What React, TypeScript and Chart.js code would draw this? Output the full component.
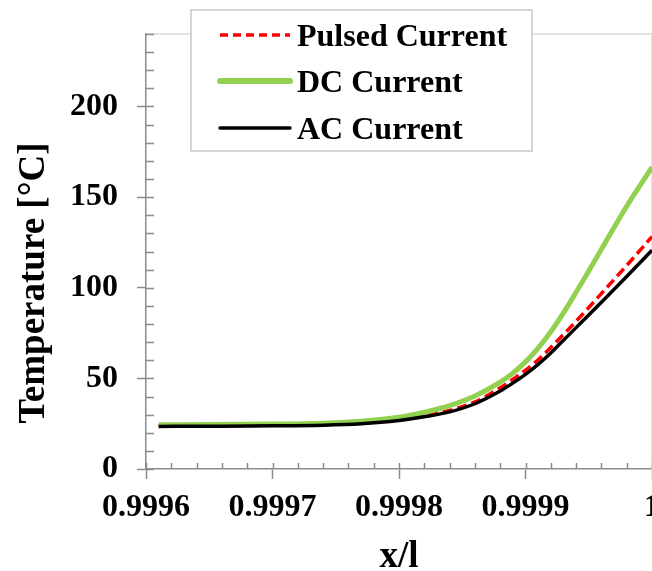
import { useEffect, useRef } from "react";
import { Chart, registerables } from "chart.js";

Chart.register(...registerables);

// Position along the conductor (x/l)
const X_POS = [
  0.99961, 0.99965, 0.9997, 0.99974, 0.99977, 0.9998, 0.99982, 0.99984,
  0.99986, 0.99988, 0.99989, 0.9999, 0.99991, 0.99992, 0.99993, 0.99994,
  0.99995, 0.99996, 0.99998, 1.0,
];
// Temperature [°C] for each supply type
const PULSED_TEMP = [
  23.8, 23.9, 24.1, 24.5, 25.3, 27.2, 29.3, 32.3, 37, 44.8, 49.5, 54.5, 60.3,
  67, 74.2, 81.5, 89.1, 96.8, 112.3, 128.2,
];
const DC_TEMP = [
  24.4, 24.5, 24.8, 25.3, 26.3, 28.5, 31.3, 35, 40.3, 47.9, 52.9, 59.1, 66.7,
  75.7, 86.1, 97.5, 109.3, 121.2, 145, 166.5,
];
const AC_TEMP = [
  23.5, 23.6, 23.8, 24.2, 25, 26.8, 28.8, 31.5, 36, 43, 47.4, 52.2, 57.7, 64, 71,
  78, 85, 92, 106.2, 120.7,
];

const SERIES_NAMES = ["Pulsed Current", "DC Current", "AC Current"];
const X_TICKS = [0.9996, 0.9997, 0.9998, 0.9999, 1];
const Y_TICKS = [0, 50, 100, 150, 200];
const X_MINOR_STEP = 0.00002;
const Y_MINOR_STEP = 10;
const X_TITLE = "x/l";
const Y_TITLE = "Temperature [°C]";

const SERIF = '"Liberation Serif", "Times New Roman", serif';
const AXIS_GREY = "#8c8c8c";
const FRAME_GREY = "#d9d9d9";

const decorations = {
  id: "decorations",
  beforeDatasetsDraw(chart: any) {
    const { ctx, chartArea: a, scales } = chart;
    const xs = scales.x;
    const ys = scales.y;
    ctx.save();
    // light frame on top and right of the plot
    ctx.strokeStyle = FRAME_GREY;
    ctx.lineWidth = 1.5;
    ctx.beginPath();
    ctx.moveTo(a.left, a.top);
    ctx.lineTo(a.right, a.top);
    ctx.lineTo(a.right, a.bottom);
    ctx.stroke();

    // inward minor ticks
    ctx.strokeStyle = AXIS_GREY;
    ctx.lineWidth = 1.5;
    ctx.beginPath();
    const nx = Math.round((xs.max - xs.min) / X_MINOR_STEP);
    for (let i = 0; i <= nx; i++) {
      const px = Math.round(xs.getPixelForValue(xs.min + i * X_MINOR_STEP)) + 0.5;
      ctx.moveTo(px, a.bottom);
      ctx.lineTo(px, a.bottom - 6);
    }
    const ny = Math.round((ys.max - ys.min) / Y_MINOR_STEP);
    for (let i = 0; i <= ny; i++) {
      const py = Math.round(ys.getPixelForValue(ys.min + i * Y_MINOR_STEP)) + 0.5;
      ctx.moveTo(a.left, py);
      ctx.lineTo(a.left + 8, py);
    }
    ctx.stroke();
    ctx.restore();
  },
  afterDraw(chart: any) {
    const { ctx, chartArea: a } = chart;
    ctx.save();

    // axis titles
    ctx.fillStyle = "#000";
    ctx.font = `bold 37px ${SERIF}`;
    ctx.textAlign = "center";
    ctx.textBaseline = "alphabetic";
    ctx.fillText(X_TITLE, (a.left + a.right) / 2, 567);
    ctx.save();
    ctx.translate(44, 283);
    ctx.rotate(-Math.PI / 2);
    ctx.fillText(Y_TITLE, 0, 0);
    ctx.restore();

    // legend box
    const bx = 191;
    const by = 10;
    const bw = 341;
    const bh = 141;
    ctx.fillStyle = "#fff";
    ctx.fillRect(bx, by, bw, bh);
    ctx.strokeStyle = "#c8c8c8";
    ctx.lineWidth = 1.5;
    ctx.strokeRect(bx, by, bw, bh);

    const rows = [35, 81, 128];
    chart.data.datasets.forEach((ds: any, i: number) => {
      const y = rows[i];
      ctx.strokeStyle = ds.borderColor;
      ctx.lineWidth = ds.legendWidth;
      ctx.lineCap = ds.borderDash ? "butt" : "round";
      ctx.setLineDash(ds.borderDash ? [8, 5] : []);
      ctx.beginPath();
      ctx.moveTo(220, y);
      ctx.lineTo(290, y);
      ctx.stroke();
      ctx.setLineDash([]);
      ctx.fillStyle = "#000";
      ctx.font = `bold 32px ${SERIF}`;
      ctx.textAlign = "left";
      ctx.textBaseline = "alphabetic";
      ctx.fillText(ds.label, 297, y + 11);
    });
    ctx.restore();
  },
};

export default function App() {
  const ref = useRef<HTMLCanvasElement | null>(null);

  useEffect(() => {
    if (!ref.current) return;
    const chart = new Chart(ref.current, {
      type: "line",
      data: {
        datasets: [
          {
            label: SERIES_NAMES[0],
            data: X_POS.map((x, i) => ({ x, y: PULSED_TEMP[i] })),
            borderColor: "#ff0000",
            borderWidth: 3.5,
            borderDash: [10, 5],
            legendWidth: 3.5,
            order: 3,
          } as any,
          {
            label: SERIES_NAMES[1],
            data: X_POS.map((x, i) => ({ x, y: DC_TEMP[i] })),
            borderColor: "#92d050",
            borderWidth: 5,
            legendWidth: 6,
            order: 2,
          } as any,
          {
            label: SERIES_NAMES[2],
            data: X_POS.map((x, i) => ({ x, y: AC_TEMP[i] })),
            borderColor: "#000000",
            borderWidth: 3.5,
            legendWidth: 3.5,
            order: 1,
          } as any,
        ],
      },
      options: {
        animation: false,
        responsive: false,
        layout: { padding: { top: 34, right: 0, bottom: 0, left: 0 } },
        elements: {
          point: { radius: 0 },
          line: { cubicInterpolationMode: "monotone", fill: false },
        },
        plugins: {
          legend: { display: false },
          tooltip: { enabled: false },
        },
        scales: {
          x: {
            type: "linear",
            min: 0.9996,
            max: 1,
            afterBuildTicks: (s: any) => {
              s.ticks = X_TICKS.map((v) => ({ value: v }));
            },
            afterFit: (s: any) => {
              s.height = 102;
              s.paddingLeft = 0;
              s.paddingRight = 0;
            },
            grid: {
              drawOnChartArea: false,
              drawTicks: true,
              tickLength: 10,
              tickWidth: 1.5,
              tickColor: AXIS_GREY,
            },
            border: { color: AXIS_GREY, width: 1.5 },
            ticks: {
              padding: 10,
              color: "#000",
              maxRotation: 0,
              autoSkip: false,
              font: { family: SERIF, size: 32, weight: "bold" },
              callback: (v: any) => String(Number(Number(v).toFixed(4))),
            },
          },
          y: {
            type: "linear",
            min: 0,
            max: 240,
            afterBuildTicks: (s: any) => {
              s.ticks = Y_TICKS.map((v) => ({ value: v }));
            },
            afterFit: (s: any) => {
              s.width = 146;
              s.paddingTop = 0;
              s.paddingBottom = 0;
            },
            grid: {
              drawOnChartArea: false,
              drawTicks: true,
              tickLength: 9,
              tickWidth: 1.5,
              tickColor: AXIS_GREY,
            },
            border: { color: AXIS_GREY, width: 1.5 },
            ticks: {
              padding: 19,
              color: "#000",
              autoSkip: false,
              font: { family: SERIF, size: 32, weight: "bold" },
            },
          },
        },
      } as any,
      plugins: [decorations],
    });
    return () => chart.destroy();
  }, []);

  return (
    <div style={{ position: "fixed", left: 0, top: 0, width: 652, height: 571, background: "#fff" }}>
      <canvas ref={ref} width={652} height={571} style={{ display: "block" }} />
    </div>
  );
}
